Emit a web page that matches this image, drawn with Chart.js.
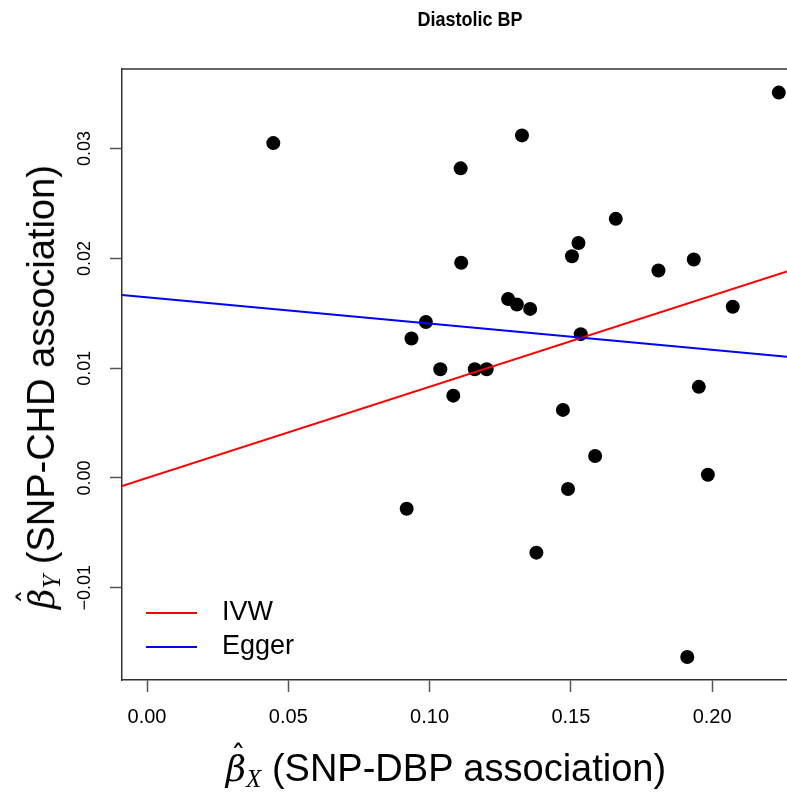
<!DOCTYPE html>
<html>
<head>
<meta charset="utf-8">
<title>Diastolic BP</title>
<script src="https://cdn.jsdelivr.net/npm/chart.js@4.4.1/dist/chart.umd.min.js"></script>
<style>
  html, body { margin: 0; padding: 0; background: #fff; }
  #wrap { position: relative; width: 787px; height: 792px; overflow: hidden; font-family: 'Liberation Sans', Arial, Helvetica, sans-serif; color: #000; }
  #plot { position: absolute; left: 0; top: 0; }
  .main-title { position: absolute; left: 470px; top: 9px; transform: translateX(-50%) scaleY(1.15); font-size: 18px; font-weight: bold; white-space: nowrap; }
  .axis-title { position: absolute; font-size: 38px; white-space: nowrap; line-height: 1; }
  .axis-title .hat { position: relative; display: inline-block; font-family: 'DejaVu Serif', serif; font-style: italic; font-size: 35px; }
  .axis-title .caret { position: absolute; left: 50%; top: -0.32em; transform: translateX(-35%); font-family: 'DejaVu Sans', sans-serif; font-style: normal; font-size: 30px; }
  .axis-title sub { font-family: 'Liberation Serif', serif; font-style: italic; font-size: 25px; vertical-align: -6px; }
  #xtitle { left: 446px; top: 749px; transform: translateX(-50%); }
  #ytitle { left: 43px; top: 387px; transform: translate(-50%, -50%) rotate(-90deg); }
</style>
</head>
<body>
<div id="wrap">
  <canvas id="plot" width="787" height="792"></canvas>
  <div class="main-title">Diastolic BP</div>
  <div class="axis-title" id="xtitle"><span class="hat">β<span class="caret">ˆ</span></span><sub>X</sub> (SNP-DBP association)</div>
  <div class="axis-title" id="ytitle"><span class="hat">β<span class="caret">ˆ</span></span><sub>Y</sub> (SNP-CHD association)</div>
</div>
<script>
// SNP associations: exposure (DBP) vs outcome (CHD)
var betaX = [0.0447, 0.2236, 0.1327, 0.1110, 0.1659, 0.1527, 0.1504, 0.1112, 0.1935, 0.1810,
             0.1278, 0.1309, 0.1356, 0.2073, 0.0987, 0.0936, 0.1535, 0.1038, 0.1160, 0.1202,
             0.1084, 0.1953, 0.1472, 0.1586, 0.1985, 0.1490, 0.0919, 0.1378, 0.1912];
var betaY = [0.0305, 0.0351, 0.0312, 0.0282, 0.0236, 0.0214, 0.0202, 0.0196, 0.0199, 0.0189,
             0.0163, 0.0158, 0.0154, 0.0156, 0.0142, 0.0127, 0.0131, 0.0099, 0.0099, 0.0099,
             0.0075, 0.0083, 0.0062, 0.0020, 0.0003, -0.0010, -0.0028, -0.0068, -0.0163];

// fitted lines, endpoints at the plot edges
var lineX = [-0.00885, 0.2265];
var ivwY = [-0.00074, 0.0188];
var eggerY = [0.01667, 0.01105];

var xRange = [-0.00885, 0.2265];
var yRange = [-0.0184, 0.03725];
var xTicks = [0, 0.05, 0.10, 0.15, 0.20];
var yTicks = [-0.01, 0, 0.01, 0.02, 0.03];

var FONT = "'Liberation Sans', Arial, Helvetica, sans-serif";

function fmtTick(v) {
  var s = Math.abs(v).toFixed(2);
  return v < -1e-9 ? '\u2212' + s : s;
}

function pairs(xs, ys) {
  return xs.map(function (x, i) { return { x: x, y: ys[i] }; });
}

// R draws a full box; the right side is cropped in the original, so only the top edge is added here
var topEdge = {
  id: 'topEdge',
  afterDraw: function (chart) {
    var a = chart.chartArea, c = chart.ctx;
    c.save();
    c.strokeStyle = '#333';
    c.lineWidth = 1.5;
    c.beginPath();
    c.moveTo(a.left - 0.75, a.top);
    c.lineTo(a.right, a.top);
    c.stroke();
    c.restore();
  }
};

// legend in the lower-left corner of the plot, R style
var cornerLegend = {
  id: 'cornerLegend',
  afterDraw: function (chart) {
    var a = chart.chartArea, c = chart.ctx;
    var items = chart.data.datasets.filter(function (d) { return d.type === 'line'; });
    c.save();
    c.font = '27px ' + FONT;
    c.textBaseline = 'middle';
    items.forEach(function (d, i) {
      var y = a.bottom - 67 + i * 34;
      c.strokeStyle = d.borderColor;
      c.lineWidth = 2;
      c.beginPath();
      c.moveTo(a.left + 24, y);
      c.lineTo(a.left + 75, y);
      c.stroke();
      c.fillStyle = '#000';
      c.fillText(d.label, a.left + 100, y);
    });
    c.restore();
  }
};

new Chart(document.getElementById('plot'), {
  type: 'scatter',
  data: {
    datasets: [
      {
        label: 'SNPs',
        data: pairs(betaX, betaY),
        backgroundColor: '#000',
        borderWidth: 0,
        pointRadius: 7,
        pointHoverRadius: 7,
        order: 3
      },
      {
        type: 'line',
        label: 'IVW',
        data: pairs(lineX, ivwY),
        borderColor: '#ff0000',
        borderWidth: 2,
        pointRadius: 0,
        tension: 0,
        order: 2
      },
      {
        type: 'line',
        label: 'Egger',
        data: pairs(lineX, eggerY),
        borderColor: '#0000ff',
        borderWidth: 2,
        pointRadius: 0,
        tension: 0,
        order: 1
      }
    ]
  },
  options: {
    responsive: false,
    animation: false,
    events: [],
    layout: { autoPadding: false, padding: { top: 69, right: 0, bottom: 0, left: 0 } },
    plugins: {
      legend: { display: false },
      tooltip: { enabled: false },
      title: { display: false }
    },
    scales: {
      x: {
        type: 'linear',
        min: xRange[0],
        max: xRange[1],
        afterBuildTicks: function (s) { s.ticks = xTicks.map(function (v) { return { value: v }; }); },
        afterFit: function (s) { s.height = 112; s.paddingLeft = 0; s.paddingRight = 0; },
        grid: { drawOnChartArea: false, drawTicks: true, tickLength: 12, tickColor: '#555', tickWidth: 1.5 },
        border: { display: true, color: '#333', width: 1.5 },
        ticks: {
          font: { family: FONT, size: 20 },
          color: '#000',
          padding: 13,
          maxRotation: 0,
          callback: function (v) { return fmtTick(v); }
        }
      },
      y: {
        type: 'linear',
        min: yRange[0],
        max: yRange[1],
        afterBuildTicks: function (s) { s.ticks = yTicks.map(function (v) { return { value: v }; }); },
        afterFit: function (s) { s.width = 122; s.paddingTop = 0; s.paddingBottom = 0; },
        grid: { drawOnChartArea: false, drawTicks: true, tickLength: 12, tickColor: '#555', tickWidth: 1.5 },
        border: { display: true, color: '#333', width: 1.5 },
        ticks: {
          font: { family: FONT, size: 18 },
          color: '#000',
          padding: 2,
          minRotation: 90,
          maxRotation: 90,
          crossAlign: 'center',
          callback: function (v) { return fmtTick(v); }
        }
      }
    }
  },
  plugins: [topEdge, cornerLegend]
});
</script>
</body>
</html>
